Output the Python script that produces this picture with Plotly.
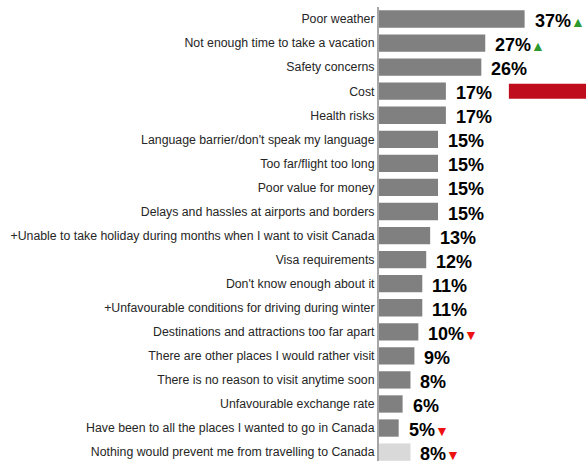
import plotly.graph_objects as go

categories = [
    "Poor weather",
    "Not enough time to take a vacation",
    "Safety concerns",
    "Cost",
    "Health risks",
    "Language barrier/don't speak my language",
    "Too far/flight too long",
    "Poor value for money",
    "Delays and hassles at airports and borders",
    "+Unable to take holiday during months when I want to visit Canada",
    "Visa requirements",
    "Don't know enough about it",
    "+Unfavourable conditions for driving during winter",
    "Destinations and attractions too far apart",
    "There are other places I would rather visit",
    "There is no reason to visit anytime soon",
    "Unfavourable exchange rate",
    "Have been to all the places I wanted to go in Canada",
    "Nothing would prevent me from travelling to Canada",
]
values = [37, 27, 26, 17, 17, 15, 15, 15, 15, 13, 12, 11, 11, 10, 9, 8, 6, 5, 8]
trends = ["up", "up", "", "", "", "", "", "", "", "", "", "", "", "down", "", "", "", "down", "down"]
highlight_category = "Cost"
highlight_start = 33.0
highlight_length = 25

bar_colors = ["#808080"] * (len(categories) - 1) + ["#d9d9d9"]

fig = go.Figure()
fig.add_trace(go.Bar(
    y=categories, x=values, orientation="h",
    marker=dict(color=bar_colors, line=dict(width=0)),
    width=0.72, hoverinfo="skip",
))
fig.add_trace(go.Bar(
    y=[highlight_category], x=[highlight_length], base=[highlight_start],
    orientation="h", marker=dict(color="#c00d1e", line=dict(width=0)),
    width=0.62, hoverinfo="skip",
))

for cat, v, t in zip(categories, values, trends):
    txt = f"<b>{v}%</b>"
    if t == "up":
        txt += "<span style='color:#2e9a2e;font-size:14px'>▲</span>"
    elif t == "down":
        txt += "<span style='color:#ee1111;font-size:14px'>▼</span>"
    fig.add_annotation(
        x=v, y=cat, xref="x", yref="y", text=txt, showarrow=False,
        xanchor="left", yanchor="middle", xshift=8, yshift=-2,
        font=dict(family="Arial, Liberation Sans", size=18, color="#000000"),
    )

fig.update_layout(
    width=586, height=461,
    margin=dict(l=379, r=0, t=7, b=0, autoexpand=False),
    paper_bgcolor="white", plot_bgcolor="white",
    barmode="overlay", showlegend=False,
    font=dict(family="Arial, Liberation Sans", size=12, color="#262626"),
)
fig.update_xaxes(range=[0, 52.6], visible=False, showgrid=False, zeroline=False, automargin=False)
fig.update_yaxes(
    type="category", categoryorder="array", categoryarray=categories,
    range=[18.37, -0.5], showgrid=False, zeroline=False, automargin=False,
    showline=True, linecolor="#a6a6a6", linewidth=2, ticks="",
    ticklabelstandoff=0,
    tickfont=dict(family="Arial, Liberation Sans", size=12.3, color="#262626"),
)

fig.write_html(
    "out.html",
    config={"displayModeBar": False},
    post_script="document.body.style.margin='0';document.body.style.overflow='hidden';",
)
